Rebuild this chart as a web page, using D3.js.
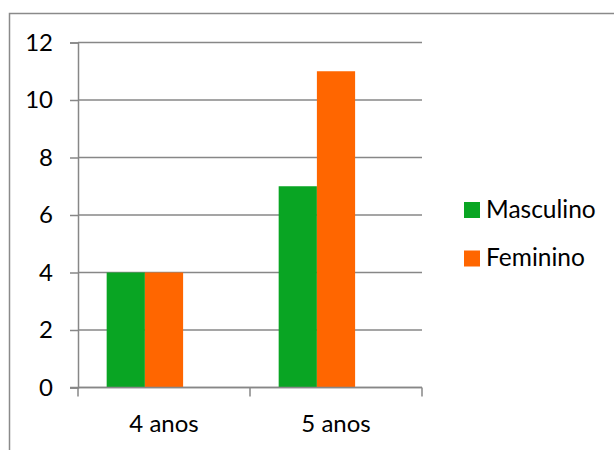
<!DOCTYPE html>
<html>
<head>
<meta charset="utf-8">
<script src="https://cdn.jsdelivr.net/npm/d3@7"></script>
<style>
  html, body { margin: 0; padding: 0; background: #fff; }
  svg { display: block; }
  text { font-family: Lato, "Open Sans", sans-serif; fill: #000; }
</style>
</head>
<body>
<svg id="chart" width="614" height="450"></svg>
<script>
const categories = ["4 anos", "5 anos"];
const seriesNames = ["Masculino", "Feminino"];
const masculino = [4, 7];
const feminino = [4, 11];
const seriesColors = ["#09a523", "#ff6600"];
const yTicks = [0, 2, 4, 6, 8, 10, 12];

const seriesValues = [masculino, feminino];
// The original chart reserves a third (empty) bar slot in each group.
const slots = [...seriesNames, "__empty__"];

const svg = d3.select("#chart");
const W = 614, H = 450;
const FS = "24px";

// outer frame
svg.append("rect")
  .attr("x", 9.5).attr("y", 13.5)
  .attr("width", W + 20).attr("height", H + 20)
  .attr("fill", "none").attr("stroke", "#8a8a8a").attr("stroke-width", 1.5);

const plot = { left: 78, right: 422, top: 42.5, bottom: 387.5 };

const y = d3.scaleLinear().domain([0, 12]).range([plot.bottom, plot.top]);
const x0 = d3.scaleBand().domain(categories).range([plot.left, plot.right]).padding(0);
const x1 = d3.scaleBand().domain(slots).range([0, x0.bandwidth()])
  .paddingInner(0).paddingOuter(0.75);

const gridColor = "#878787";

// gridlines + y ticks
const yAxis = d3.axisLeft(y).tickValues(yTicks).tickSize(8).tickFormat(d3.format("d")).tickPadding(17);
const gy = svg.append("g").attr("transform", `translate(${plot.left},0)`).call(yAxis);
gy.select(".domain").attr("stroke", gridColor).attr("stroke-width", 1.5);
gy.selectAll(".tick line").attr("stroke", gridColor).attr("stroke-width", 1.5);
gy.selectAll(".tick text").style("font-size", FS).attr("fill", "#000");

svg.append("g").selectAll("line").data(yTicks).join("line")
  .attr("x1", plot.left).attr("x2", plot.right)
  .attr("y1", d => y(d)).attr("y2", d => y(d))
  .attr("stroke", gridColor).attr("stroke-width", 1.5);

// bars
const groups = svg.append("g").selectAll("g").data(categories).join("g")
  .attr("transform", d => `translate(${x0(d)},0)`);
groups.selectAll("rect")
  .data((c, i) => seriesNames.map((s, j) => ({ s, j, v: seriesValues[j][i] })))
  .join("rect")
  .attr("x", d => x1(d.s))
  .attr("width", x1.bandwidth())
  .attr("y", d => y(d.v))
  .attr("height", d => y(0) - y(d.v))
  .attr("fill", d => seriesColors[d.j]);

// redraw zero line over bars
svg.append("line")
  .attr("x1", plot.left - 8).attr("x2", plot.right)
  .attr("y1", y(0)).attr("y2", y(0))
  .attr("stroke", gridColor).attr("stroke-width", 1.5);

// x axis
const xAxis = d3.axisBottom(x0).tickSize(0).tickPadding(27);
const gx = svg.append("g").attr("transform", `translate(0,${plot.bottom})`).call(xAxis);
gx.select(".domain").remove();
gx.selectAll(".tick text").style("font-size", FS).attr("fill", "#000");
// category boundary ticks
const bounds = [plot.left, ...categories.map(c => x0(c) + x0.bandwidth())];
svg.append("g").selectAll("line").data(bounds).join("line")
  .attr("x1", d => d).attr("x2", d => d)
  .attr("y1", plot.bottom).attr("y2", plot.bottom + 9)
  .attr("stroke", gridColor).attr("stroke-width", 1.5);

// legend
const legend = svg.append("g").attr("transform", "translate(464,202)");
const li = legend.selectAll("g").data(seriesNames).join("g")
  .attr("transform", (d, i) => `translate(0,${i * 48.5})`);
li.append("rect").attr("width", 16).attr("height", 16)
  .attr("fill", (d, i) => seriesColors[i]);
li.append("text").attr("x", 22).attr("y", 15.5)
  .style("font-size", "24.5px").text(d => d);
</script>
</body>
</html>
